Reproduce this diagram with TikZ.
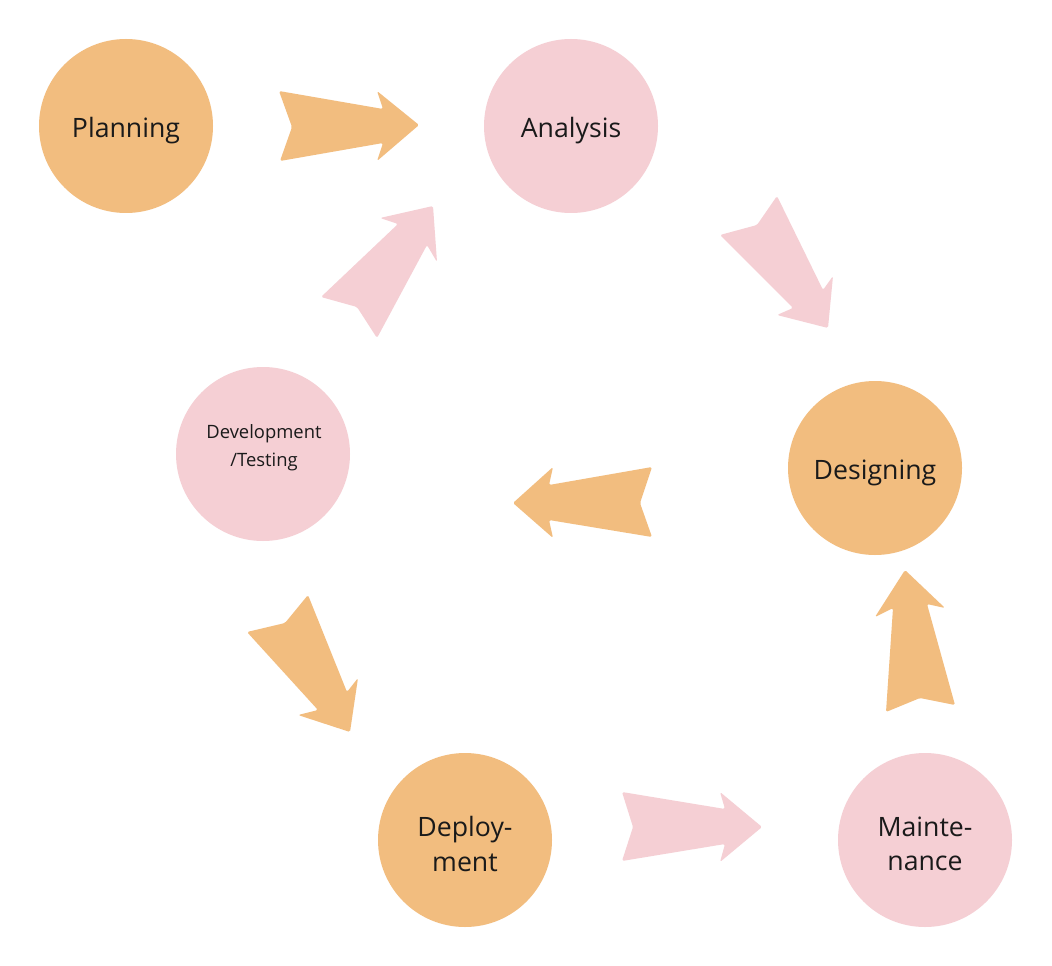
\documentclass[tikz,border=0pt]{standalone}
\usepackage{fontspec}
\setmainfont{Open Sans}
\definecolor{orng}{HTML}{F2BD7F}
\definecolor{pnk}{HTML}{F5CFD4}
\definecolor{txt}{HTML}{1A1A1A}
\begin{document}
\begin{tikzpicture}[x=0.75pt,y=-0.75pt,
  phase/.style={circle,minimum size=130.5pt,inner sep=0pt,draw=none},
  lbl/.style={align=center,text=txt,font=\fontsize{20}{26}\selectfont},
  small/.style={align=center,text=txt,font=\fontsize{13.8}{21}\selectfont},
  bigarrow/.style={rounded corners=1.2pt}]
\useasboundingbox (0,0) rectangle (1052,966);
\fill[white] (0,0) rectangle (1052,966);
% circles
\node[phase,fill=orng] (plan) at (126,126) {};
\node[phase,fill=pnk] (anal) at (571,126) {};
\node[phase,fill=orng] (des) at (875,468) {};
\node[phase,fill=pnk] (dev) at (263,454) {};
\node[phase,fill=orng] (dep) at (465,840) {};
\node[phase,fill=pnk] (mnt) at (925,840) {};
% labels
\node[lbl] (planT) at (126,131) {Planning};
\node[lbl] (analT) at (571,131) {Analysis};
\node[lbl] (desT) at (875,473) {Designing};
\node[small] (devT) at (264,448) {Development\\/Testing};
\node[lbl] (depT) at (465,844) {Deploy-\\ment};
\node[lbl] (mntT) at (925,844) {Mainte-\\nance};
% arrows
\fill[orng,bigarrow] (279,91) -- (292,127) -- (280,161) -- (383,143) -- (377,161) -- (419,125) -- (377,91) -- (383,109) -- cycle;
\fill[pnk,bigarrow] (433,206) -- (437,262) -- (427,245) -- (377,338) -- (357,307) -- (321,297) -- (398,224) -- (380,218) -- cycle;
\fill[pnk,bigarrow] (777,196) -- (757,225) -- (720,235) -- (793,308) -- (777,315) -- (828,328) -- (833,276) -- (823,290) -- cycle;
\fill[orng,bigarrow] (513,503) -- (553,467) -- (549,485) -- (652,467) -- (640,503) -- (652,537) -- (549,520) -- (553,538) -- cycle;
\fill[orng,bigarrow] (308,595) -- (285,623) -- (247,632) -- (318,710) -- (298,715) -- (350,732) -- (358,678) -- (347,692) -- cycle;
\fill[pnk,bigarrow] (622,792) -- (633,827) -- (622,861) -- (725,844) -- (720,862) -- (762,827) -- (720,792) -- (725,809) -- cycle;
\fill[orng,bigarrow] (905,570) -- (945,608) -- (927,604) -- (955,705) -- (920,698) -- (886,712) -- (893,608) -- (875,617) -- cycle;
\end{tikzpicture}
\end{document}
